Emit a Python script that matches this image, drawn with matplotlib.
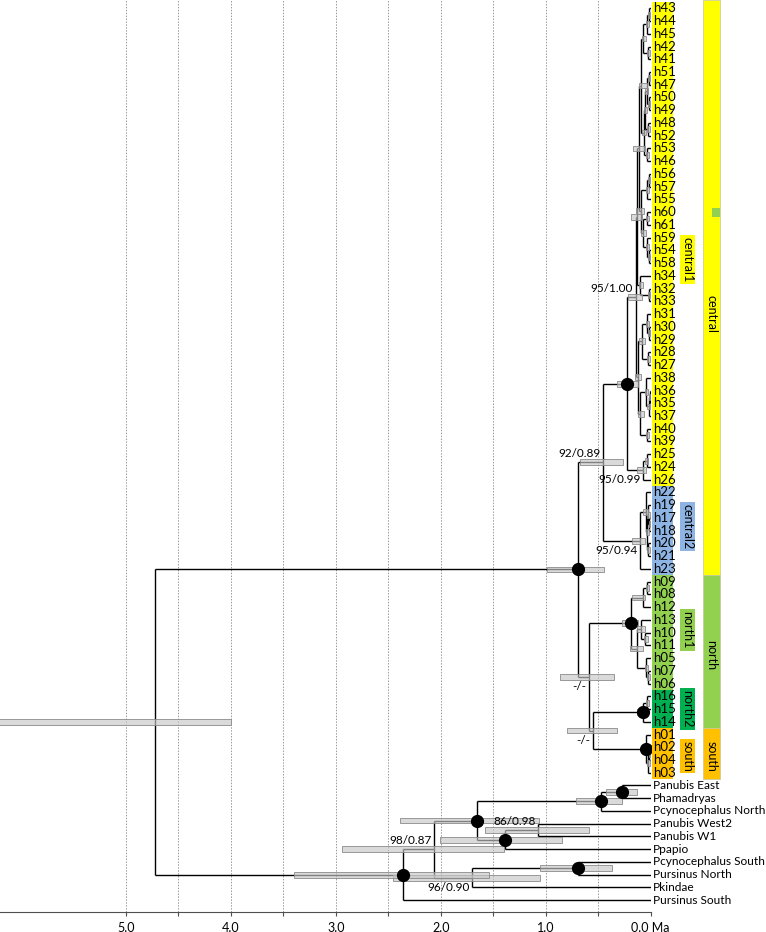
import matplotlib
matplotlib.use("Agg")
import matplotlib.pyplot as plt
from matplotlib.patches import Rectangle
import matplotlib.transforms as mtransforms

plt.rcParams['font.family'] = ['Lato', 'DejaVu Sans']

# tip order, top to bottom
tips = ["h43", "h44", "h45", "h42", "h41", "h51", "h47", "h50", "h49", "h48",
        "h52", "h53", "h46", "h56", "h57", "h55", "h60", "h61", "h59", "h54",
        "h58", "h34", "h32", "h33", "h31", "h30", "h29", "h28", "h27", "h38",
        "h36", "h35", "h37", "h40", "h39", "h25", "h24", "h26", "h22", "h19",
        "h17", "h18", "h20", "h21", "h23", "h09", "h08", "h12", "h13", "h10",
        "h11", "h05", "h07", "h06", "h16", "h15", "h14", "h01", "h02", "h04",
        "h03", "Panubis East", "Phamadryas", "Pcynocephalus North",
        "Panubis West2", "Panubis W1", "Ppapio", "Pcynocephalus South",
        "Pursinus North", "Pkindae", "Pursinus South"]

# internal nodes (children listed before parents): name, children, age (Ma), HPD old, HPD young
nodes = [
    ("c4344", ["h43", "h44"], 0.010, 0.020, 0.003),
    ("c45", ["c4344", "h45"], 0.030, 0.042, 0.014),
    ("c4241", ["h42", "h41"], 0.020, 0.030, 0.008),
    ("Na", ["c45", "c4241"], 0.070, 0.085, 0.045),
    ("c5147", ["h51", "h47"], 0.015, 0.024, 0.005),
    ("c5049", ["h50", "h49"], 0.015, 0.024, 0.005),
    ("Nb1", ["c5147", "c5049"], 0.035, 0.048, 0.020),
    ("c4852", ["h48", "h52"], 0.020, 0.030, 0.008),
    ("Nb2", ["Nb1", "c4852"], 0.050, 0.062, 0.030),
    ("c5346", ["h53", "h46"], 0.030, 0.040, 0.012),
    ("Nb", ["Nb2", "c5346"], 0.065, 0.080, 0.040),
    ("U", ["Na", "Nb"], 0.090, 0.110, 0.035),
    ("c5657", ["h56", "h57"], 0.015, 0.025, 0.005),
    ("c55", ["c5657", "h55"], 0.030, 0.042, 0.014),
    ("c6061", ["h60", "h61"], 0.030, 0.045, 0.012),
    ("c5458", ["h54", "h58"], 0.010, 0.020, 0.003),
    ("c59", ["h59", "c5458"], 0.030, 0.042, 0.012),
    ("L2", ["c6061", "c59"], 0.070, 0.090, 0.045),
    ("L", ["c55", "L2"], 0.090, 0.140, 0.060),
    ("UL", ["U", "L"], 0.110, 0.170, 0.050),
    ("c3233", ["h32", "h33"], 0.010, 0.020, 0.003),
    ("c34", ["h34", "c3233"], 0.100, 0.110, 0.070),
    ("A1", ["UL", "c34"], 0.130, 0.190, 0.080),
    ("c3029", ["h30", "h29"], 0.010, 0.020, 0.003),
    ("c31", ["h31", "c3029"], 0.030, 0.042, 0.012),
    ("c2827", ["h28", "h27"], 0.020, 0.032, 0.008),
    ("A2a", ["c31", "c2827"], 0.085, 0.110, 0.050),
    ("c3635", ["h36", "h35"], 0.005, 0.012, 0.001),
    ("c37", ["c3635", "h37"], 0.015, 0.030, 0.005),
    ("c38", ["h38", "c37"], 0.040, 0.055, 0.020),
    ("c4039", ["h40", "h39"], 0.030, 0.042, 0.012),
    ("A2b", ["c38", "c4039"], 0.100, 0.120, 0.060),
    ("A2", ["A2a", "A2b"], 0.120, 0.150, 0.090),
    ("A", ["A1", "A2"], 0.140, 0.210, 0.080),
    ("c2524", ["h25", "h24"], 0.035, 0.050, 0.020),
    ("B", ["c2524", "h26"], 0.070, 0.130, 0.040),
    ("central1", ["A", "B"], 0.220, 0.320, 0.120),
    ("c1718", ["h17", "h18"], 0.010, 0.018, 0.003),
    ("c19", ["h19", "c1718"], 0.020, 0.035, 0.008),
    ("c2021", ["h20", "h21"], 0.020, 0.032, 0.008),
    ("X2", ["c19", "c2021"], 0.030, 0.045, 0.015),
    ("X1", ["h22", "X2"], 0.045, 0.070, 0.025),
    ("central2", ["X1", "h23"], 0.100, 0.180, 0.050),
    ("central", ["central1", "central2"], 0.450, 0.670, 0.260),
    ("c0908", ["h09", "h08"], 0.030, 0.045, 0.012),
    ("n1a", ["c0908", "h12"], 0.070, 0.180, 0.050),
    ("c1011", ["h10", "h11"], 0.050, 0.065, 0.025),
    ("n1b1", ["h13", "c1011"], 0.090, 0.130, 0.050),
    ("c0706", ["h07", "h06"], 0.020, 0.030, 0.008),
    ("n1b2", ["h05", "c0706"], 0.040, 0.055, 0.020),
    ("n1b", ["n1b1", "n1b2"], 0.130, 0.200, 0.070),
    ("north1", ["n1a", "n1b"], 0.190, 0.270, 0.120),
    ("c1615", ["h16", "h15"], 0.030, 0.045, 0.012),
    ("north2", ["c1615", "h14"], 0.075, 0.130, 0.040),
    ("c0204", ["h02", "h04"], 0.010, 0.018, 0.003),
    ("c03", ["c0204", "h03"], 0.020, 0.030, 0.008),
    ("south", ["h01", "c03"], 0.045, 0.060, 0.020),
    ("NS2", ["north2", "south"], 0.550, 0.800, 0.320),
    ("NS", ["north1", "NS2"], 0.590, 0.860, 0.350),
    ("ingroup", ["central", "NS"], 0.690, 0.990, 0.440),
    ("o1", ["Panubis East", "Phamadryas"], 0.270, 0.420, 0.130),
    ("o2", ["o1", "Pcynocephalus North"], 0.470, 0.710, 0.270),
    ("o3", ["Panubis West2", "Panubis W1"], 1.070, 1.580, 0.590),
    ("o4", ["o3", "Ppapio"], 1.390, 2.010, 0.840),
    ("o5", ["o2", "o4"], 1.650, 2.390, 1.060),
    ("o6", ["Pcynocephalus South", "Pursinus North"], 0.690, 1.050, 0.370),
    ("o7", ["o6", "Pkindae"], 1.700, 2.450, 1.050),
    ("o8", ["o5", "o7"], 2.060, 2.940, 1.400),
    ("o9", ["o8", "Pursinus South"], 2.360, 3.400, 1.540),
    ("root", ["ingroup", "o9"], 4.720, 6.600, 4.000),
]

dot_nodes = ["ingroup", "central1", "north1", "north2", "south",
             "o1", "o2", "o4", "o5", "o6", "o9"]

# support labels: node, text, placement
support = [("central", "92/0.89", "above"), ("A", "95/1.00", "above"),
           ("B", "95/0.99", "below"), ("central2", "95/0.94", "below"),
           ("NS", "-/-", "below"), ("NS2", "-/-", "below"),
           ("o3", "86/0.98", "above"), ("o8", "98/0.87", "above"),
           ("o7", "96/0.90", "below")]

# haplogroups: label, first tip, last tip, colour, label centre
groups = [("central1", "h43", "h26", "#ffff00", 19.7),
          ("central2", "h22", "h23", "#8eb4e3", 40.7),
          ("north1", "h09", "h06", "#92d050", 48.8),
          ("north2", "h16", "h14", "#00b050", 55.0),
          ("south", "h01", "h03", "#ffc000", 58.7)]

# sampling regions: label, first tip, last tip, colour, label centre
regions = [("central", "h43", "h23", "#ffff00", 24.0),
           ("north", "h09", "h14", "#92d050", 50.8),
           ("south", "h01", "h03", "#ffc000", 58.7)]
region_extra = [("h60", "#92d050")]

ticks = [5.0, 4.5, 4.0, 3.5, 3.0, 2.5, 2.0, 1.5, 1.0, 0.5, 0.0]
tick_labels = ["5.0", "", "4.0", "", "3.0", "", "2.0", "", "1.0", "", "0.0 Ma"]

# ---- layout
ypos = {t: i for i, t in enumerate(tips)}
age = {t: 0.0 for t in tips}
for name, kids, a, lo, hi in nodes:
    age[name] = a
    ypos[name] = (ypos[kids[0]] + ypos[kids[-1]]) / 2.0

fig = plt.figure(figsize=(7.66, 9.32), dpi=100)
ax = fig.add_axes([0.0, 20 / 932, 650.5 / 766, 912 / 932])
ax.set_xlim(6.2, 0.0)
ax.set_ylim(70.93, -0.65)

for g in ticks:
    ax.axvline(g, color="#9a9a9a", lw=0.7, ls=(0, (1.5, 1.5)), zorder=1)

lw = 1.0
for name, kids, a, lo, hi in nodes:
    ax.plot([a, a], [ypos[kids[0]], ypos[kids[-1]]], color="black", lw=lw,
            solid_capstyle="butt", zorder=2)
    for k in kids:
        ax.plot([a, age[k]], [ypos[k], ypos[k]], color="black", lw=lw,
                solid_capstyle="butt", zorder=2)

bh = 0.46
for name, kids, a, lo, hi in nodes:
    ax.add_patch(Rectangle((hi, ypos[name] - bh / 2), lo - hi, bh,
                           facecolor=(0.78, 0.78, 0.78, 0.65),
                           edgecolor="#8a8a8a", lw=0.6, zorder=3))

ax.plot([age[n] for n in dot_nodes], [ypos[n] for n in dot_nodes], "o",
        color="black", ms=8.5, zorder=4)

for n, txt, where in support:
    off = 2 if where == "above" else -3
    ax.annotate(txt, (age[n], ypos[n]), xytext=(-2, off), textcoords="offset points",
                ha="right", va="bottom" if where == "above" else "top",
                fontsize=8.5, zorder=5)

# tip labels and coloured backgrounds
tr = mtransforms.blended_transform_factory(ax.transAxes, ax.transData)
x0 = 652 / 650.5
for t in tips:
    fs = 9.5 if t.startswith("h") else 8.6
    ax.text(x0 + 0.001, ypos[t], t, transform=tr, ha="left", va="center",
            fontsize=fs, clip_on=False)
for lab, first, last, col, yc in groups:
    y1, y2 = ypos[first] - 0.5, ypos[last] + 0.5
    ax.add_patch(Rectangle((x0, y1), 21 / 650.5, y2 - y1, transform=tr,
                           facecolor=col, edgecolor="none", clip_on=False, zorder=0))
    ax.text(687.5 / 650.5, yc, lab, transform=tr, rotation=-90, ha="center",
            va="center", fontsize=9, clip_on=False,
            bbox=dict(boxstyle="square,pad=0.15", facecolor=col, edgecolor="none"))

rx0, rw = 703 / 650.5, 17 / 650.5
for lab, first, last, col, yc in regions:
    y1 = ypos[first] - 0.5 if first != "h43" else -0.65
    y2 = ypos[last] + 0.5
    ax.add_patch(Rectangle((rx0, y1), rw, y2 - y1, transform=tr, facecolor=col,
                           edgecolor="#c8c8a0", lw=0.5, clip_on=False))
    ax.text(rx0 + rw / 2, yc, lab, transform=tr, rotation=-90, ha="center",
            va="center", fontsize=9, clip_on=False)
for t, col in region_extra:
    ax.add_patch(Rectangle((rx0 + rw / 2, ypos[t] - 0.35), rw / 2, 0.7, transform=tr,
                           facecolor=col, edgecolor="none", clip_on=False))

for s in ["top", "right", "left"]:
    ax.spines[s].set_visible(False)
ax.spines["bottom"].set_color("#505050")
ax.set_yticks([])
ax.set_xticks(ticks)
ax.set_xticklabels(tick_labels, fontsize=9)
ax.tick_params(axis="x", length=3, width=0.8, color="#505050", pad=4)

fig.savefig("out.png", dpi=100)
